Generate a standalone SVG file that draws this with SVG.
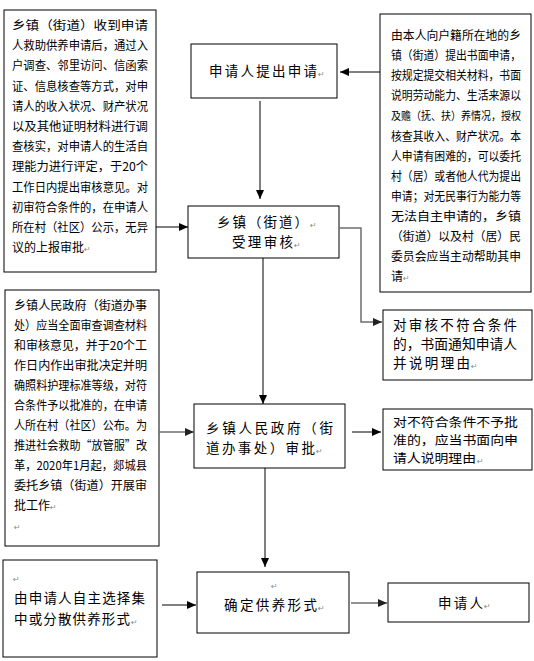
<svg xmlns="http://www.w3.org/2000/svg" width="534" height="661" viewBox="0 0 534 661">
<style>
.box{fill:#fff;stroke:#000;stroke-width:1}
.t{font-family:"Noto Sans CJK SC","Noto Sans",sans-serif;font-size:12px;fill:#000}
.m{font-family:"Noto Sans CJK SC","Noto Sans",sans-serif;font-size:13.5px;fill:#000}
.s{font-family:"Noto Sans CJK SC","Noto Sans",sans-serif;font-size:12.5px;fill:#000}
.pm{font-family:"DejaVu Sans",sans-serif;font-size:8px;fill:#8a8a8a}
.c{fill:none;stroke:#000;stroke-width:1}
.g{fill:none;stroke:#6e6e6e;stroke-width:1.5}
</style>
<defs>
<marker id="ab" markerWidth="9" markerHeight="8" refX="9" refY="4" orient="auto" markerUnits="userSpaceOnUse"><path d="M0,0 L9,4 L0,8 Z" fill="#000"/></marker>
<marker id="ag" markerWidth="9" markerHeight="8" refX="9" refY="4" orient="auto" markerUnits="userSpaceOnUse"><path d="M0,0 L9,4 L0,8 Z" fill="#222"/></marker>
</defs>
<rect width="534" height="661" fill="#fff"/>

<g id="note-review">
<rect class="box" x="4" y="10" width="152" height="262"/>
<text class="t" x="12" y="30" textLength="136" lengthAdjust="spacingAndGlyphs">乡镇（街道）收到申请</text>
<text class="t" x="12" y="50.2" textLength="136" lengthAdjust="spacingAndGlyphs">人救助供养申请后，通过入</text>
<text class="t" x="12" y="70.4" textLength="136" lengthAdjust="spacingAndGlyphs">户调查、邻里访问、信函索</text>
<text class="t" x="12" y="90.6" textLength="136" lengthAdjust="spacingAndGlyphs">证、信息核查等方式，对申</text>
<text class="t" x="12" y="110.8" textLength="136" lengthAdjust="spacingAndGlyphs">请人的收入状况、财产状况</text>
<text class="t" x="12" y="131" textLength="136" lengthAdjust="spacingAndGlyphs">以及其他证明材料进行调</text>
<text class="t" x="12" y="151.2" textLength="136" lengthAdjust="spacingAndGlyphs">查核实，对申请人的生活自</text>
<text class="t" x="12" y="171.4" textLength="136" lengthAdjust="spacingAndGlyphs">理能力进行评定，于20个</text>
<text class="t" x="12" y="191.6" textLength="136" lengthAdjust="spacingAndGlyphs">工作日内提出审核意见。对</text>
<text class="t" x="12" y="211.8" textLength="136" lengthAdjust="spacingAndGlyphs">初审符合条件的，在申请人</text>
<text class="t" x="12" y="232" textLength="136" lengthAdjust="spacingAndGlyphs">所在村（社区）公示，无异</text>
<text class="t" x="12" y="252.2">议的上报审批<tspan class="pm">↵</tspan></text>
</g>

<g id="note-apply">
<rect class="box" x="380" y="14" width="151" height="278"/>
<text class="t" x="391" y="40" textLength="130" lengthAdjust="spacingAndGlyphs">由本人向户籍所在地的乡</text>
<text class="t" x="391" y="60.1" textLength="130" lengthAdjust="spacingAndGlyphs">镇（街道）提出书面申请，</text>
<text class="t" x="391" y="80.2" textLength="130" lengthAdjust="spacingAndGlyphs">按规定提交相关材料，书面</text>
<text class="t" x="391" y="100.3" textLength="130" lengthAdjust="spacingAndGlyphs">说明劳动能力、生活来源以</text>
<text class="t" x="391" y="120.4" textLength="130" lengthAdjust="spacingAndGlyphs" style="font-size:11px">及赡（抚、扶）养情况，授权</text>
<text class="t" x="391" y="140.5" textLength="130" lengthAdjust="spacingAndGlyphs">核查其收入、财产状况。本</text>
<text class="t" x="391" y="160.6" textLength="130" lengthAdjust="spacingAndGlyphs">人申请有困难的，可以委托</text>
<text class="t" x="391" y="180.7" textLength="130" lengthAdjust="spacingAndGlyphs">村（居）或者他人代为提出</text>
<text class="t" x="391" y="200.8" textLength="130" lengthAdjust="spacingAndGlyphs">申请；对无民事行为能力等</text>
<text class="t" x="391" y="220.9" textLength="130" lengthAdjust="spacingAndGlyphs">无法自主申请的，乡镇</text>
<text class="t" x="391" y="241" textLength="130" lengthAdjust="spacingAndGlyphs">（街道）以及村（居）民</text>
<text class="t" x="391" y="261.1" textLength="130" lengthAdjust="spacingAndGlyphs">委员会应当主动帮助其申</text>
<text class="t" x="391" y="281.2">请<tspan class="pm">↵</tspan></text>
</g>

<g id="n-apply">
<rect class="box" x="191" y="44" width="146" height="54"/>
<text class="m" x="209" y="76" textLength="108" lengthAdjust="spacing">申请人提出申请</text>
<text class="pm" x="318" y="77">↵</text>
</g>

<g id="n-accept">
<rect class="box" x="188" y="206" width="151" height="52"/>
<text class="m" x="217" y="227" textLength="91" lengthAdjust="spacing">乡镇（街道）</text>
<text class="pm" x="310" y="228">↵</text>
<text class="m" x="232" y="247" textLength="61" lengthAdjust="spacing">受理审核</text>
<text class="pm" x="294" y="248">↵</text>
</g>

<g id="n-reject1">
<rect class="box" x="383" y="310" width="149" height="70"/>
<text class="m" x="393" y="330" textLength="124" lengthAdjust="spacing">对审核不符合条件</text>
<text class="m" x="393" y="349" textLength="124" lengthAdjust="spacingAndGlyphs">的，书面通知申请人</text>
<text class="m" x="393" y="368" textLength="77" lengthAdjust="spacing">并说明理由</text>
<text class="pm" x="471" y="369">↵</text>
</g>

<g id="note-approve">
<rect class="box" x="5" y="290" width="154" height="256"/>
<text class="t" x="14" y="310" textLength="133" lengthAdjust="spacingAndGlyphs">乡镇人民政府（街道办事</text>
<text class="t" x="14" y="330" textLength="133" lengthAdjust="spacingAndGlyphs">处）应当全面审查调查材料</text>
<text class="t" x="14" y="350" textLength="133" lengthAdjust="spacingAndGlyphs">和审核意见，并于20个工</text>
<text class="t" x="14" y="370" textLength="133" lengthAdjust="spacingAndGlyphs">作日内作出审批决定并明</text>
<text class="t" x="14" y="390" textLength="133" lengthAdjust="spacingAndGlyphs">确照料护理标准等级，对符</text>
<text class="t" x="14" y="410" textLength="133" lengthAdjust="spacingAndGlyphs">合条件予以批准的，在申请</text>
<text class="t" x="14" y="430" textLength="133" lengthAdjust="spacingAndGlyphs">人所在村（社区）公布。为</text>
<text class="t" x="14" y="450" textLength="133" lengthAdjust="spacingAndGlyphs">推进社会救助“放管服”改</text>
<text class="t" x="14" y="470" textLength="133" lengthAdjust="spacingAndGlyphs">革，2020年1月起，郯城县</text>
<text class="t" x="14" y="490" textLength="133" lengthAdjust="spacingAndGlyphs">委托乡镇（街道）开展审</text>
<text class="t" x="14" y="510">批工作<tspan class="pm">↵</tspan></text>
<text class="pm" x="14" y="530">↵</text>
</g>

<g id="n-approve">
<rect class="box" x="194" y="404" width="151" height="64"/>
<text class="m" x="206" y="433" textLength="127" lengthAdjust="spacing">乡镇人民政府（街</text>
<text class="m" x="206" y="453" textLength="109" lengthAdjust="spacing">道办事处）审批</text>
<text class="pm" x="316" y="454">↵</text>
</g>

<g id="n-reject2">
<rect class="box" x="383" y="409" width="149" height="61"/>
<text class="s" x="393" y="427" textLength="125" lengthAdjust="spacingAndGlyphs">对不符合条件不予批</text>
<text class="s" x="393" y="445" textLength="125" lengthAdjust="spacingAndGlyphs">准的，应当书面向申</text>
<text class="s" x="393" y="463" textLength="83" lengthAdjust="spacingAndGlyphs">请人说明理由</text>
<text class="pm" x="477" y="464">↵</text>
</g>

<g id="note-choose">
<rect class="box" x="3" y="560" width="154" height="97"/>
<text class="pm" x="13" y="582">↵</text>
<text class="m" x="14" y="603" textLength="131" lengthAdjust="spacing">由申请人自主选择集</text>
<text class="m" x="14" y="624" textLength="116" lengthAdjust="spacing">中或分散供养形式</text>
<text class="pm" x="131" y="625">↵</text>
</g>

<g id="n-form">
<rect class="box" x="197" y="572" width="152" height="61"/>
<text class="pm" x="271" y="589">↵</text>
<text class="m" x="224" y="610" textLength="93" lengthAdjust="spacing">确定供养形式</text>
<text class="pm" x="318" y="611">↵</text>
</g>

<g id="n-applicant">
<rect class="box" x="388" y="583" width="141" height="39"/>
<text class="m" x="438" y="608" textLength="45" lengthAdjust="spacing">申请人</text>
<text class="pm" x="484" y="609">↵</text>
</g>

<g id="connectors">
<line class="c" x1="380" y1="72" x2="340" y2="72" marker-end="url(#ab)"/>
<line class="c" x1="260" y1="101" x2="260" y2="199" marker-end="url(#ab)"/>
<line class="c" x1="156" y1="227" x2="188" y2="227" marker-end="url(#ab)"/>
<polyline class="g" points="339,228 361,228 361,322 382,322" marker-end="url(#ag)"/>
<line class="c" x1="263" y1="258" x2="263" y2="404" marker-end="url(#ab)"/>
<line class="g" x1="159" y1="432" x2="194" y2="432" marker-end="url(#ag)"/>
<line class="c" x1="352" y1="432" x2="381" y2="432" marker-end="url(#ab)"/>
<line class="c" x1="265" y1="468" x2="265" y2="567" marker-end="url(#ab)"/>
<line class="c" x1="162" y1="605" x2="196" y2="605" marker-end="url(#ab)"/>
<line class="g" x1="351" y1="603" x2="387" y2="603" marker-end="url(#ag)"/>
</g>
</svg>
